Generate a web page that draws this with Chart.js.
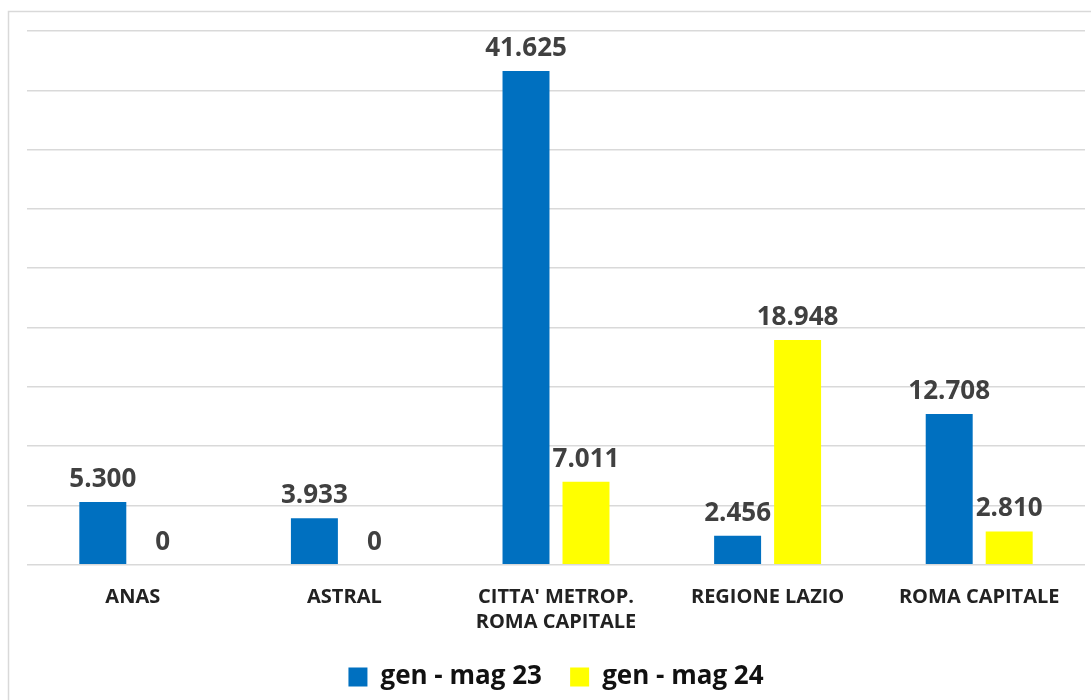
<!DOCTYPE html>
<html>
<head>
<meta charset="utf-8">
<script src="https://cdn.jsdelivr.net/npm/chart.js@4"></script>
<style>
   html, body { margin: 0; padding: 0; background: #fff; }
   #wrap { width: 1091px; height: 700px; position: relative; }
</style>
</head>
<body>
<div id="wrap"><canvas id="chart" width="1091" height="700"></canvas></div>
<script>
// data
var categories = ['ANAS', 'ASTRAL', ["CITTA' METROP.", 'ROMA CAPITALE'], 'REGIONE LAZIO', 'ROMA CAPITALE'];
var seriesNames = ['gen - mag 23', 'gen - mag 24'];
var values23 = [5300, 3933, 41625, 2456, 12708];
var values24 = [0, 0, 7011, 18948, 2810];

var FONT = "'Open Sans', 'Noto Sans', sans-serif";

// format numbers the italian way: 41625 -> 41.625
var fmt = function(v) {
   return v.toLocaleString('it-IT');
};

// draw the value above each bar
var valueLabels = {
   id: 'valueLabels',
   afterDatasetsDraw: function(chart) {
      var ctx = chart.ctx;
      ctx.save();
      ctx.font = 'bold 26px ' + FONT;
      ctx.fillStyle = '#404040';
      ctx.textAlign = 'center';
      ctx.textBaseline = 'alphabetic';
      chart.data.datasets.forEach(function(ds, i) {
         var meta = chart.getDatasetMeta(i);
         meta.data.forEach(function(bar, j) {
            ctx.fillText(fmt(ds.data[j]), bar.x, bar.y - 15);
         });
      });
      ctx.restore();
   }
};

// light frame round the chart, top and left edges
var frame = {
   id: 'frame',
   beforeDraw: function(chart) {
      var ctx = chart.ctx;
      ctx.save();
      ctx.strokeStyle = '#d9d9d9';
      ctx.lineWidth = 1.5;
      ctx.beginPath();
      ctx.moveTo(8.5, 700);
      ctx.lineTo(8.5, 11.5);
      ctx.lineTo(1091, 11.5);
      ctx.stroke();
      ctx.restore();
   }
};

new Chart(document.getElementById('chart'), {
   type: 'bar',
   data: {
      labels: categories,
      datasets: [{
         label: seriesNames[0],
         data: values23,
         backgroundColor: '#0070C0',
         categoryPercentage: 0.567,
         barPercentage: 0.783
      }, {
         label: seriesNames[1],
         data: values24,
         backgroundColor: '#FFFF00',
         categoryPercentage: 0.567,
         barPercentage: 0.783
      }]
   },
   options: {
      responsive: false,
      animation: false,
      layout: {
         padding: { left: 27, right: 6, top: 31, bottom: 0 }
      },
      scales: {
         x: {
            grid: { display: false },
            border: { display: false },
            ticks: {
               color: '#222',
               font: { family: FONT, size: 20, weight: 'bold', lineHeight: 1.25 },
               padding: 12,
               maxRotation: 0,
               autoSkip: false
            }
         },
         y: {
            min: 0,
            max: 45000,
            ticks: { display: false, stepSize: 5000 },
            border: { display: false },
            grid: { color: '#d9d9d9', lineWidth: 1.5, drawTicks: false }
         }
      },
      plugins: {
         legend: {
            position: 'bottom',
            title: {
               display: true,
               text: ' ',
               font: { size: 1 },
               padding: { top: 0, bottom: 8 }
            },
            labels: {
               color: '#111',
               font: { family: FONT, size: 26, weight: 'bold' },
               boxWidth: 19,
               boxHeight: 19,
               padding: 8,
               // wider gap between the two items, as in the picture
               generateLabels: function(chart) {
                  var items = Chart.defaults.plugins.legend.labels.generateLabels(chart);
                  items.forEach(function(it, i) {
                     if (i < items.length - 1) it.text = it.text + '   ';
                  });
                  return items;
               }
            }
         },
         tooltip: { enabled: false }
      }
   },
   plugins: [frame, valueLabels]
});
</script>
</body>
</html>
